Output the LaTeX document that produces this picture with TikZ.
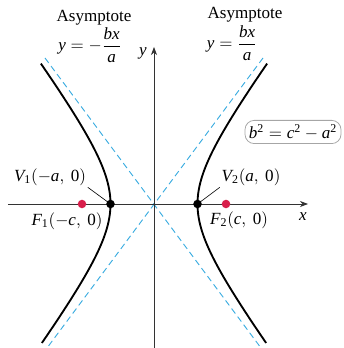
\documentclass[tikz,border=0pt]{standalone}
\usepackage{amsmath}
\usepackage{mathspec}
\setallmainfonts(Digits,Latin){Liberation Serif}
\usetikzlibrary{arrows.meta,positioning}
\definecolor{asym}{HTML}{3AACE0}
\definecolor{fcol}{HTML}{D81E4B}
\definecolor{axcol}{HTML}{333333}

\begin{document}
\begin{tikzpicture}[x=0.645pt,y=0.645pt,
  >=Stealth,
  axisline/.style={->, line width=0.5pt, color=axcol},
  asymline/.style={color=asym, line width=0.6pt, dash pattern=on 4pt off 2.5pt},
  branch/.style={line width=1.2pt, color=black},
  vtx/.style={circle, fill=black, inner sep=0pt, minimum size=5.5pt},
  foc/.style={circle, fill=fcol, inner sep=0pt, minimum size=5.5pt},
  lbl/.style={inner sep=1pt, font=\fontsize{11}{13}\selectfont},
  leader/.style={line width=0.4pt, color=black},
]
\useasboundingbox (-154,-144) rectangle (189,204);

% asymptotes
\draw[asymline] (-109,146) -- (107,-144);
\draw[asymline] (109,146) -- (-107,-144);

% axes
\coordinate (xl) at (-146,0);
\coordinate (xr) at (154,0);
\coordinate (yb) at (0,-144);
\coordinate (yt) at (0,157);
\draw[axisline] (xl) -- (xr);
\draw[axisline] (yb) -- (yt);
\node[lbl] (xlab) at (149,-13) {$x$};
\node[lbl] (ylab) at (-11,151) {$y$};

% branches
\draw[branch] plot[domain=-1.6:1.61, samples=60, smooth] ({43.5*cosh(\x)}, {58.5*sinh(\x)});
\draw[branch] plot[domain=-1.6:1.61, samples=60, smooth] ({-43.5*cosh(\x)}, {58.5*sinh(\x)});

% points
\node[vtx] (v1) at (-43.5,0) {};
\node[vtx] (v2) at (43.5,0) {};
\node[foc] (f1) at (-72,0) {};
\node[foc] (f2) at (72,0) {};

\node[lbl] (v1lbl) at (-104,27) {$V_1(-a,\:0)$};
\node[lbl] (v2lbl) at (97,27) {$V_2(a,\:0)$};
\node[lbl] (f1lbl) at (-87,-17) {$F_1(-c,\:0)$};
\node[lbl] (f2lbl) at (85,-16) {$F_2(c,\:0)$};
\draw[leader] (v1lbl.south east) -- (v1.center);
\draw[leader] (v2lbl.south west) -- (v2.center);

% asymptote labels
\node[lbl] (asl) at (-60,186) {Asymptote};
\node[lbl] (eql) at (-64,159) {$y = -\dfrac{bx}{a}$};
\node[lbl] (asr) at (91,189) {Asymptote};
\node[lbl] (eqr) at (78,161) {$y = \dfrac{bx}{a}$};

\node[draw=gray!70, rounded corners=6pt, line width=0.5pt, inner sep=2.5pt, font=\fontsize{11}{13}\selectfont] (rel) at (139,72) {$b^2 = c^2 - a^2$};

\end{tikzpicture}
\end{document}
